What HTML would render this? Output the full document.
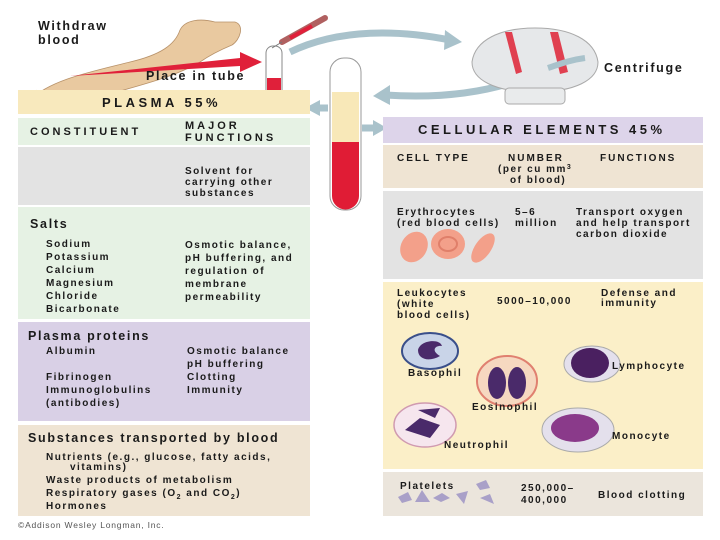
<!DOCTYPE html>
<html><head><meta charset="utf-8"><style>
html,body{margin:0;padding:0;background:#fff}
svg{display:block}
text{font-family:"Liberation Sans",Arial,sans-serif;font-weight:bold;fill:#1a1a1a}
.s{font-size:10px;letter-spacing:1.5px}
.m{font-size:11px;letter-spacing:3px}
.h{font-size:12.5px;letter-spacing:1.7px}
.c{font-size:13px;letter-spacing:3.5px}
.sc{font-size:10px;letter-spacing:2px}
</style></head><body>
<svg width="720" height="540" viewBox="0 0 720 540" xmlns="http://www.w3.org/2000/svg">
<rect width="720" height="540" fill="#fff"/>
<!-- arm -->
<path d="M30,100 C50,80 90,72 130,62 C160,55 175,45 180,30 C185,20 200,18 215,22 L235,22 C245,25 240,40 232,45 C220,50 210,55 200,62 C170,80 120,90 60,108 Z" fill="#e9c9a0" stroke="#b8926a" stroke-width="0.8"/>
<path d="M36,90 C38,98 40,104 44,110" stroke="#b8926a" fill="none"/>
<!-- red arrow -->
<path d="M70,76 L240,58 L240,52 L262,62 L240,72 L240,66 Z" fill="#e0203a"/>
<text x="38" y="30" class="h">Withdraw</text>
<text x="38" y="44" class="h">blood</text>
<text x="146" y="80" class="h">Place in tube</text>
<!-- small tube -->
<rect x="266" y="46" width="16" height="66" rx="7" fill="#fff" stroke="#888"/>
<path d="M267,78 L281,78 L281,104 A7,7 0 0 1 267,104 Z" fill="#e0203a"/>
<!-- syringe -->
<path d="M282,42 L325,18" stroke="#b06060" stroke-width="6" stroke-linecap="round"/>
<path d="M290,38 L312,26" stroke="#e0203a" stroke-width="4"/>
<path d="M272,48 L282,42" stroke="#777" stroke-width="1"/>
<!-- arrows -->
<path d="M290,52 C340,28 400,30 450,40" stroke="#a9c2cb" stroke-width="7" fill="none"/>
<path d="M445,30 L462,42 L444,50 Z" fill="#a9c2cb"/>
<path d="M525,78 C480,95 430,98 385,95" stroke="#a9c2cb" stroke-width="7" fill="none"/>
<path d="M390,85 L373,96 L390,105 Z" fill="#a9c2cb"/>
<path d="M328,108 L318,108" stroke="#a9c2cb" stroke-width="7"/>
<path d="M320,100 L305,108 L320,116 Z" fill="#a9c2cb"/>
<path d="M362,128 L375,128" stroke="#a9c2cb" stroke-width="7"/>
<path d="M373,120 L387,128 L373,136 Z" fill="#a9c2cb"/>
<!-- centrifuge -->
<path d="M472,62 C475,40 500,28 535,28 C570,28 595,40 598,62 C598,80 575,92 535,92 C495,92 472,80 472,62 Z" fill="#e6e8ea" stroke="#aaa"/>
<rect x="505" y="88" width="60" height="16" rx="4" fill="#e9ebec" stroke="#aaa"/>
<path d="M505,32 L512,32 L522,72 L516,74 Z" fill="#e04050"/>
<path d="M550,32 L558,32 L568,72 L560,74 Z" fill="#e04050"/>
<path d="M585,58 C570,60 560,64 548,68" stroke="#a9c2cb" stroke-width="6" fill="none"/>
<text x="604" y="72" class="h">Centrifuge</text>
<!-- big tube -->
<rect x="330" y="58" width="31" height="152" rx="14" fill="#fff" stroke="#999"/>
<path d="M332,92 L359,92 L359,142 L332,142 Z" fill="#f8e8b8"/>
<path d="M332,142 L359,142 L359,196 A13.5,13.5 0 0 1 332,196 Z" fill="#e01c35"/>
<!-- LEFT PANEL -->
<rect x="18" y="90" width="292" height="24" fill="#f8e9bd"/>
<text x="102" y="107" class="c">PLASMA 55%</text>
<rect x="18" y="118" width="292" height="27" fill="#e6f2e4"/>
<text x="30" y="135" class="m">CONSTITUENT</text>
<text x="185" y="129" class="m">MAJOR</text>
<text x="185" y="141" class="m">FUNCTIONS</text>
<rect x="18" y="147" width="292" height="58" fill="#e3e3e3"/>
<text x="185" y="174" class="s">Solvent for</text>
<text x="185" y="185" class="s">carrying other</text>
<text x="185" y="196" class="s">substances</text>
<rect x="18" y="207" width="292" height="112" fill="#e6f2e4"/>
<text x="30" y="228" class="h">Salts</text>
<text x="46" y="247" class="s">Sodium</text><text x="46" y="260" class="s">Potassium</text><text x="46" y="273" class="s">Calcium</text><text x="46" y="286" class="s">Magnesium</text><text x="46" y="299" class="s">Chloride</text><text x="46" y="312" class="s">Bicarbonate</text>
<text x="185" y="248" class="s">Osmotic balance,</text>
<text x="185" y="261" class="s">pH buffering, and</text>
<text x="185" y="274" class="s">regulation of</text>
<text x="185" y="287" class="s">membrane</text>
<text x="185" y="300" class="s">permeability</text>
<rect x="18" y="322" width="292" height="99" fill="#d9d0e6"/>
<text x="28" y="340" class="h">Plasma proteins</text>
<text x="46" y="354" class="s">Albumin</text>
<text x="46" y="380" class="s">Fibrinogen</text>
<text x="46" y="393" class="s">Immunoglobulins</text>
<text x="46" y="406" class="s">(antibodies)</text>
<text x="187" y="354" class="s">Osmotic balance</text>
<text x="187" y="367" class="s">pH buffering</text>
<text x="187" y="380" class="s">Clotting</text>
<text x="187" y="393" class="s">Immunity</text>
<rect x="18" y="425" width="292" height="91" fill="#efe4d3"/>
<text x="28" y="442" class="h">Substances transported by blood</text>
<text x="46" y="460" class="s">Nutrients (e.g., glucose, fatty acids,</text>
<text x="70" y="470" class="s">vitamins)</text>
<text x="46" y="483" class="s">Waste products of metabolism</text>
<text x="46" y="496" class="s">Respiratory gases (O<tspan font-size="7" dy="3">2</tspan><tspan dy="-3"> and CO</tspan><tspan font-size="7" dy="3">2</tspan><tspan dy="-3">)</tspan></text>
<text x="46" y="509" class="s">Hormones</text>
<text x="18" y="528" style="font-size:8.5px;font-weight:normal;fill:#555;letter-spacing:0.8px">©Addison Wesley Longman, Inc.</text>
<!-- RIGHT PANEL -->
<rect x="383" y="117" width="320" height="26" fill="#ddd4ea"/>
<text x="418" y="134" class="c">CELLULAR ELEMENTS 45%</text>
<rect x="383" y="145" width="320" height="43" fill="#efe4d3"/>
<text x="397" y="161" class="sc">CELL TYPE</text>
<text x="508" y="161" class="sc">NUMBER</text>
<text x="498" y="172" class="s">(per cu mm<tspan font-size="7" dy="-3">3</tspan></text>
<text x="510" y="183" class="s">of blood)</text>
<text x="600" y="161" class="sc">FUNCTIONS</text>
<rect x="383" y="191" width="320" height="88" fill="#e3e3e3"/>
<text x="397" y="215" class="s">Erythrocytes</text>
<text x="397" y="226" class="s">(red blood cells)</text>
<text x="515" y="215" class="s">5–6</text>
<text x="515" y="226" class="s">million</text>
<text x="576" y="215" class="s">Transport oxygen</text>
<text x="576" y="226" class="s">and help transport</text>
<text x="576" y="237" class="s">carbon dioxide</text>
<ellipse cx="414" cy="247" rx="13" ry="16" transform="rotate(30 414 247)" fill="#f3a08a"/>
<ellipse cx="448" cy="244" rx="17" ry="15" fill="#f3a08a"/><ellipse cx="448" cy="244" rx="9" ry="7" fill="none" stroke="#e07f6a" stroke-width="2"/>
<ellipse cx="483" cy="248" rx="8" ry="17" transform="rotate(35 483 248)" fill="#f3a08a"/>
<rect x="383" y="282" width="320" height="187" fill="#fbefc8"/>
<text x="397" y="296" class="s">Leukocytes</text>
<text x="397" y="307" class="s">(white</text>
<text x="397" y="318" class="s">blood cells)</text>
<text x="497" y="304" class="s">5000–10,000</text>
<text x="601" y="296" class="s">Defense and</text>
<text x="601" y="306" class="s">immunity</text>
<ellipse cx="430" cy="351" rx="28" ry="18" fill="#c9d4e8" stroke="#3a4f8a" stroke-width="2"/><path d="M418,350 C420,340 440,338 442,346 C436,345 430,350 440,356 C430,362 418,360 418,350 Z" fill="#4a2a6a"/>
<text x="408" y="376" class="s">Basophil</text>
<ellipse cx="507" cy="381" rx="30" ry="25" fill="#f6d8c0" stroke="#e08070" stroke-width="2"/><ellipse cx="497" cy="383" rx="9" ry="16" fill="#4a2a6a"/><ellipse cx="517" cy="383" rx="9" ry="16" fill="#4a2a6a"/>
<text x="472" y="410" class="s">Eosinophil</text>
<ellipse cx="592" cy="364" rx="28" ry="18" fill="#e4e0ec" stroke="#aaa"/><ellipse cx="590" cy="363" rx="19" ry="15" fill="#4a2060"/>
<text x="612" y="369" class="s">Lymphocyte</text>
<ellipse cx="425" cy="425" rx="31" ry="22" fill="#f6e6ee" stroke="#d09ab0" stroke-width="1.5"/><path d="M405,430 L420,418 L440,425 L430,438 Z M418,410 L440,408 L435,418 Z" fill="#4a2a6a"/>
<text x="444" y="448" class="s">Neutrophil</text>
<ellipse cx="578" cy="430" rx="36" ry="22" fill="#e4e0ec" stroke="#aaa"/><ellipse cx="575" cy="428" rx="24" ry="14" fill="#8a3a8a"/>
<text x="612" y="439" class="s">Monocyte</text>
<rect x="383" y="472" width="320" height="44" fill="#ebe5dc"/>
<text x="400" y="489" class="s">Platelets</text>
<g fill="#a9a0c8"><path d="M398,497 L408,492 L412,500 L402,503 Z"/><path d="M415,502 L422,490 L430,502 Z"/><path d="M433,498 L442,493 L450,498 L441,502 Z"/><path d="M456,494 L468,491 L464,504 Z"/><path d="M476,484 L486,480 L490,488 L480,490 Z"/><path d="M480,498 L490,494 L494,504 Z"/></g>
<text x="521" y="491" class="s">250,000–</text>
<text x="521" y="503" class="s">400,000</text>
<text x="598" y="498" class="s">Blood clotting</text>
</svg>
</body></html>
